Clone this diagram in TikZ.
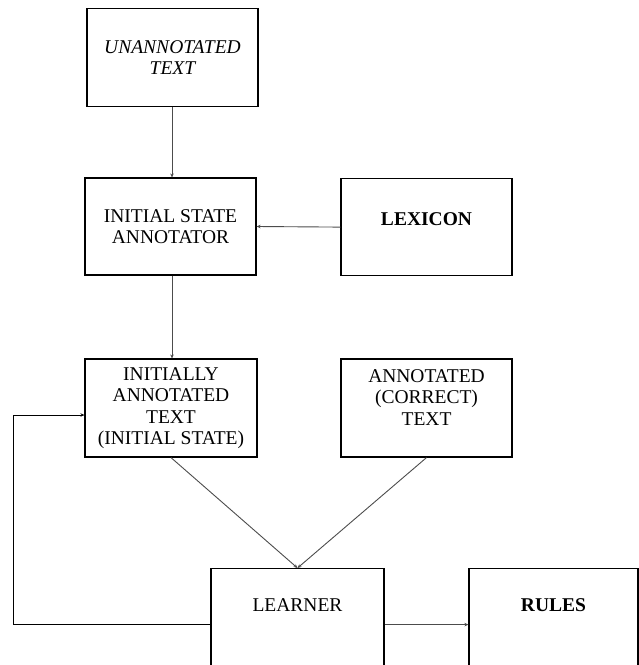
\documentclass[tikz,border=0pt]{standalone}
\usepackage{fontspec}
\setmainfont{Liberation Serif}
\usetikzlibrary{arrows.meta}
\begin{document}
\begin{tikzpicture}[x=1pt,y=-1pt,
  txt/.style={font=\fontsize{19.5}{21.5}\selectfont},
  box/.style={draw=black, line width=1.2pt, rectangle, inner sep=0pt, align=center, txt},
  conn/.style={draw=black!70, line width=0.9pt, -{Stealth[length=4pt,width=3.5pt]}},
]
\useasboundingbox (0,0) rectangle (639,665);
\clip (0,0) rectangle (639,665);
\node[box, minimum width=171pt, minimum height=98pt, font=\fontsize{19.5}{21.5}\selectfont\itshape] (un) at (172.5,57.5) {UNANNOTATED\\TEXT};
\node[box, minimum width=171pt, minimum height=97pt] (isa) at (170.5,226.5) {INITIAL STATE\\ANNOTATOR};
\node[box, anchor=north, minimum width=171pt, text height=47pt, text depth=50pt, font=\fontsize{19.5}{21.5}\selectfont\bfseries] (lex) at (426.5,178) {LEXICON};
\node[box, minimum width=172pt, minimum height=98pt] (init) at (171,408) {INITIALLY\\ANNOTATED\\TEXT\\(INITIAL STATE)};
\node[box, minimum width=171pt, minimum height=98pt] (ann) at (426.5,408) {ANNOTATED\\(CORRECT)\\TEXT\\\mbox{}};
\node[box, anchor=north, minimum width=173pt, text height=43pt, text depth=80pt] (learner) at (297.5,568) {LEARNER};
\node[box, anchor=north, minimum width=169pt, text height=43pt, text depth=80pt, font=\fontsize{19.5}{21.5}\selectfont\bfseries] (rules) at (553.5,568) {RULES};

\draw[conn] ([xshift=-0.5pt]un.south) -- ([xshift=-0.5pt]un.south |- isa.north);
\draw[conn] (lex.west) -- (isa.east);
\draw[conn] ([xshift=1.5pt]isa.south) -- ([xshift=1.5pt]isa.south |- init.north);
\draw[conn] (init.south) -- (learner.north);
\draw[conn] (ann.south) -- (learner.north);
\draw[conn, draw=black] ([yshift=5.5pt]learner.west) -- ++(-197,0) |- ([yshift=-7pt]init.west);
\draw[conn] ([yshift=5.5pt]learner.east) -- ([yshift=5.5pt]rules.west);
\end{tikzpicture}
\end{document}
